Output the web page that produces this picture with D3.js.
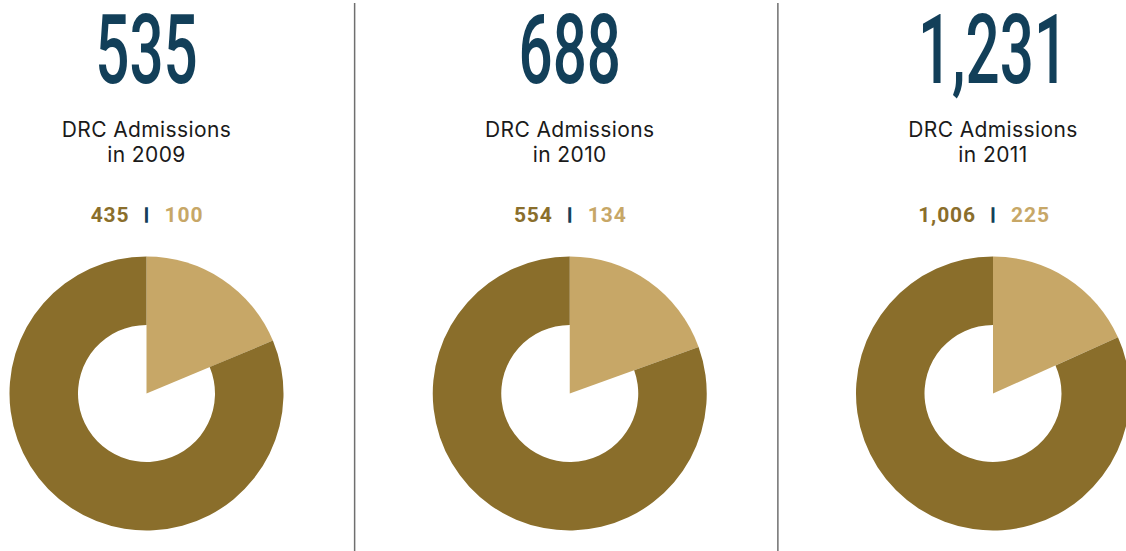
<!DOCTYPE html>
<html><head><meta charset="utf-8">
<script src="https://cdn.jsdelivr.net/npm/d3@7"></script>
<style>html,body{margin:0;padding:0;background:#fff;overflow:hidden}</style>
</head><body>
<svg id="c" width="1126" height="551"></svg>
<script>
const years = ["2009", "2010", "2011"];
const totals = [535, 688, 1231];
const darkValues = [435, 554, 1006];
const lightValues = [100, 134, 225];

const W = 1126, H = 551;
const svg = d3.select("#c");
const colDark = "#8a6e2b", colLight = "#c7a767", colBlue = "#123f59";

const x = d3.scalePoint().domain(years).range([146.5, 993]);
const step = x.step();
const fmt = d3.format(",");

// dividers
svg.selectAll("line.div").data(years.slice(1)).join("line")
  .attr("x1", d => x(d) - step / 2 - 3.5).attr("x2", d => x(d) - step / 2 - 3.5)
  .attr("y1", 3).attr("y2", H)
  .attr("stroke", "#6f6f6f").attr("stroke-width", 1.5);

const pie = d3.pie().sort(null).value(d => d.v);
const rOuter = 137, rInner = 68.5;

years.forEach((yr, i) => {
  const cx = x(yr);
  const g = svg.append("g");
  g.append("text").attr("transform", `translate(${cx},83) scale(0.62,1)`)
    .attr("text-anchor", "middle").attr("font-family", "Roboto").attr("font-weight", 500)
    .attr("font-size", 97).attr("fill", colBlue).text(fmt(totals[i]));
  g.append("text").attr("x", cx).attr("y", 137).attr("text-anchor", "middle")
    .attr("font-family", "Inter").attr("font-size", 21).attr("fill", "#1a1a1a")
    .attr("letter-spacing", 0.4).text("DRC Admissions");
  g.append("text").attr("x", cx).attr("y", 162).attr("text-anchor", "middle")
    .attr("font-family", "Inter").attr("font-size", 21).attr("fill", "#1a1a1a")
    .attr("letter-spacing", 0.4).text("in " + yr);
  g.append("text").attr("x", cx - 17).attr("y", 222).attr("text-anchor", "end")
    .attr("font-family", "Roboto").attr("font-weight", 700).attr("font-size", 21)
    .attr("letter-spacing", 0.9).attr("fill", colDark).text(fmt(darkValues[i]));
  g.append("text").attr("x", cx).attr("y", 220).attr("text-anchor", "middle")
    .attr("font-family", "Roboto").attr("font-weight", 900).attr("font-size", 17)
    .attr("fill", colBlue).attr("stroke", colBlue).attr("stroke-width", 1.3).text("|");
  g.append("text").attr("x", cx + 18).attr("y", 222).attr("text-anchor", "start")
    .attr("font-family", "Roboto").attr("font-weight", 700).attr("font-size", 21)
    .attr("letter-spacing", 0.9).attr("fill", colLight).text(fmt(lightValues[i]));

  const arcs = pie([{k: "light", v: lightValues[i]}, {k: "dark", v: darkValues[i]}]);
  g.append("g").attr("transform", `translate(${cx},393.5)`)
    .selectAll("path").data(arcs).join("path")
    .attr("d", d => d3.arc().innerRadius(d.data.k === "light" ? 0 : rInner).outerRadius(rOuter)(d))
    .attr("fill", d => d.data.k === "light" ? colLight : colDark);
});
</script>
</body></html>
